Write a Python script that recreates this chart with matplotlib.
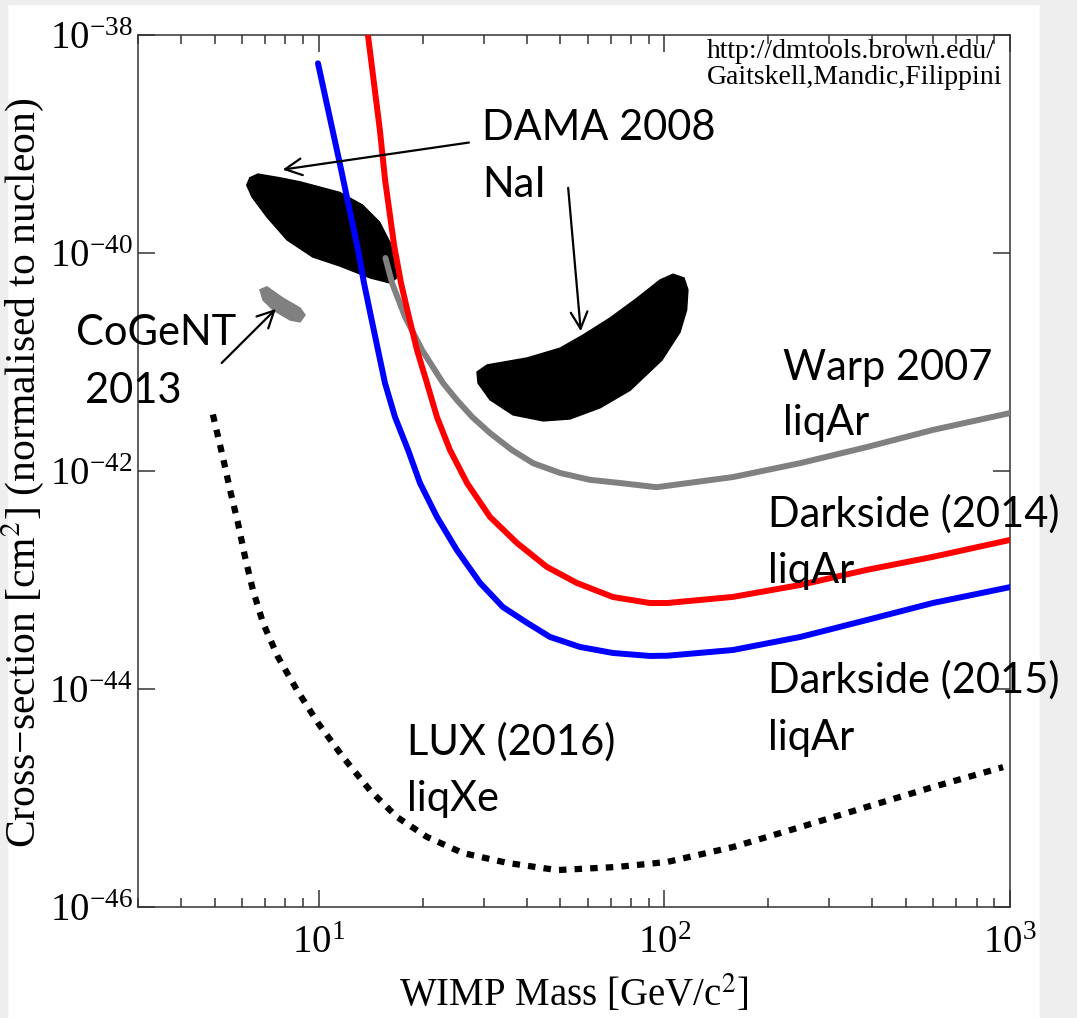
import matplotlib
matplotlib.use('Agg')
import matplotlib.pyplot as plt
from matplotlib.patches import Polygon, Rectangle
from matplotlib.ticker import FixedLocator, LogLocator, NullFormatter

# WIMP exclusion limits (mass in GeV/c^2, cross-section in cm^2).
darkside15_mass = [9.95, 11.5, 12.99, 13.52, 14.17, 14.84, 15.55, 16.62, 18.13, 19.63, 21.98, 25.1,
                   29.3, 34.1, 40.1, 46.7, 57.0, 71.0, 90.8, 102, 158, 247, 386, 598, 1000]
darkside15_xsec = [5.5e-39, 6.7e-40, 1.07e-40, 5.3e-41, 2.59e-41, 1.29e-41, 6.4e-42, 3.13e-42,
                   1.56e-42, 7.76e-43, 3.79e-43, 1.88e-43, 9.4e-44, 5.65e-44, 4.04e-44, 3.0e-44,
                   2.43e-44, 2.14e-44, 2.01e-44, 2.02e-44, 2.28e-44, 3.0e-44, 4.3e-44, 6.15e-44, 8.6e-44]

darkside14_mass = [13.88, 15.03, 15.56, 16.52, 17.3, 18.24, 19.24, 20.57, 21.98, 23.97, 26.85, 31.3,
                   37.5, 45.7, 55.8, 71.0, 90.8, 102, 158, 247, 386, 598, 1000]
darkside14_xsec = [1.0e-38, 1.34e-39, 4.68e-40, 1.18e-40, 5.3e-41, 2.59e-41, 1.29e-41, 6.4e-42,
                   3.13e-42, 1.56e-42, 7.76e-43, 3.79e-43, 2.18e-43, 1.32e-43, 9.4e-44, 6.98e-44,
                   6.15e-44, 6.15e-44, 7.0e-44, 9.0e-44, 1.24e-43, 1.63e-43, 2.33e-43]

warp_mass = [15.6, 16.3, 17.78, 19.9, 22.9, 25.1, 27.8, 31.3, 36.2, 41.7, 49.9, 60.9, 74.4, 95,
             158, 247, 386, 598, 1000]
warp_xsec = [9.0e-41, 5.3e-41, 2.59e-41, 1.29e-41, 6.4e-42, 4.48e-42, 3.13e-42, 2.23e-42, 1.56e-42,
             1.18e-42, 9.6e-43, 8.3e-43, 7.76e-43, 7.1e-43, 8.8e-43, 1.18e-42, 1.66e-42, 2.38e-42, 3.4e-42]

lux_mass = [4.94, 5.28, 5.54, 5.84, 6.12, 6.45, 6.90, 7.62, 8.65, 9.95, 11.75, 14.06, 16.83, 20.57,
            26.1, 35.1, 48.9, 73, 102, 158, 247, 386, 598, 955]
lux_xsec = [3.3e-42, 1.34e-42, 6.7e-43, 3.33e-43, 1.63e-43, 8.1e-44, 4.04e-44, 1.97e-44, 9.8e-45,
            4.88e-45, 2.38e-45, 1.18e-45, 6.7e-46, 4.39e-46, 3.13e-46, 2.54e-46, 2.18e-46, 2.33e-46,
            2.59e-46, 3.55e-46, 5.4e-46, 8.3e-46, 1.26e-45, 1.92e-45]

# DAMA 2008 (NaI) allowed regions and CoGeNT 2013 region, outline vertices.
dama_low_mass = [6.19, 6.32, 6.67, 7.72, 8.83, 11.5, 13.4, 15.0, 16.1, 16.7, 16.8, 16.1, 14.1, 11.5,
                 9.6, 8.09, 7.08, 6.41]
dama_low_xsec = [4.2e-40, 4.9e-40, 5.3e-40, 4.9e-40, 4.5e-40, 3.6e-40, 2.75e-40, 1.92e-40, 1.24e-40,
                 7.8e-41, 5.9e-41, 5.3e-41, 5.9e-41, 7.6e-41, 9.2e-41, 1.32e-40, 2.14e-40, 3.27e-40]

dama_high_mass = [28.9, 28.7, 30.7, 40.1, 49.9, 58.2, 69.7, 83.4, 97.1, 106, 114, 117, 116, 111,
                  98.4, 79.6, 65.2, 53.3, 44.6, 36.5, 31.3]
dama_high_xsec = [6.4e-42, 8.1e-42, 9.4e-42, 1.09e-41, 1.34e-41, 1.77e-41, 2.54e-41, 3.86e-41,
                  5.65e-41, 6.4e-41, 5.9e-41, 4.6e-41, 3.0e-41, 1.88e-41, 1.04e-41, 5.5e-42,
                  3.8e-42, 3.0e-42, 2.88e-42, 3.27e-42, 4.5e-42]

cogent_mass = [6.76, 7.08, 7.88, 8.83, 9.13, 8.83, 8.26, 7.38, 6.90]
cogent_xsec = [4.6e-41, 4.9e-41, 3.86e-41, 3.13e-41, 2.7e-41, 2.33e-41, 2.43e-41, 3.0e-41, 3.7e-41]

W, H = 1077, 1018


def fx(px):
    return px / W


def fy(py):
    return 1 - py / H


plt.rcParams['font.family'] = ['Liberation Serif', 'DejaVu Serif']
plt.rcParams['mathtext.fontset'] = 'stix'

fig = plt.figure(figsize=(W / 100, H / 100), dpi=100)
fig.patch.set_facecolor('white')
# slide background around the picture
for (x0, y0, x1, y1) in [(0, 0, 7, H), (0, 0, W, 4), (1040, 0, W, H)]:
    fig.patches.append(Rectangle((fx(x0), fy(y1)), fx(x1 - x0), (y1 - y0) / H,
                                 transform=fig.transFigure, color='#eeeeee', zorder=-10))

ax = fig.add_axes([fx(138), fy(907), fx(1010 - 138), (907 - 35) / H])
ax.set_xscale('log')
ax.set_yscale('log')
ax.set_xlim(3, 1000)
ax.set_ylim(1e-46, 1e-38)

ax.add_patch(Polygon(list(zip(dama_low_mass, dama_low_xsec)), closed=True, color='black', zorder=2))
ax.add_patch(Polygon(list(zip(dama_high_mass, dama_high_xsec)), closed=True, color='black', zorder=2))
ax.add_patch(Polygon(list(zip(cogent_mass, cogent_xsec)), closed=True, color='#808080', zorder=2))

line_style = dict(lw=4.3, solid_capstyle='round', solid_joinstyle='round', zorder=3)
ax.plot(warp_mass, warp_xsec, color='#808080', **line_style)
ax.plot(darkside14_mass, darkside14_xsec, color='#ff0000', **line_style)
ax.plot(darkside15_mass, darkside15_xsec, color='#0000ff', **line_style)
ax.plot(lux_mass, lux_xsec, color='black', lw=4.5, linestyle=(0, (1.2, 1.3)), zorder=3)

arrow = dict(arrowstyle='->', color='black', lw=1.6, mutation_scale=30)
ax.annotate('', xy=(7.72, 5.77e-40), xytext=(27.7, 1.04e-39), arrowprops=arrow, zorder=4)
ax.annotate('', xy=(57.4, 1.81e-41), xytext=(52.6, 4.2e-40), arrowprops=arrow, zorder=4)
ax.annotate('', xy=(7.62, 3.2e-41), xytext=(5.17, 9.4e-42), arrowprops=arrow, zorder=4)

# ticks
ax.yaxis.set_major_locator(FixedLocator([1e-46, 1e-44, 1e-42, 1e-40, 1e-38]))
ax.yaxis.set_minor_locator(FixedLocator([]))
ax.xaxis.set_major_locator(LogLocator(base=10))
ax.xaxis.set_minor_locator(LogLocator(base=10, subs=range(2, 10)))
ax.xaxis.set_minor_formatter(NullFormatter())
ax.tick_params(which='both', direction='in', top=True, right=True, color='#333333')
ax.tick_params(which='major', length=12, width=1.1, labelsize=28)
ax.tick_params(which='minor', length=6.5, width=1.1)
ax.tick_params(axis='x', pad=13)
ax.tick_params(axis='y', pad=4)
for s in ax.spines.values():
    s.set_color('#333333')
    s.set_linewidth(1.1)

ax.set_xlabel('WIMP Mass [GeV/c$^2$]', fontsize=28, labelpad=8)
fig.text(fx(23), fy(473), 'Cross\u2212section [cm$^2$] (normalised to nucleon)', rotation=90,
         fontsize=30, ha='center', va='center')

fig.text(fx(707), fy(58), 'http://dmtools.brown.edu/', fontsize=20)
fig.text(fx(707), fy(84), 'Gaitskell,Mandic,Filippini', fontsize=20)

labels = [
    ('DAMA 2008', 482, 140), ('NaI', 482, 197),
    ('CoGeNT', 76, 345), ('2013', 85, 403),
    ('Warp 2007', 783, 380), ('liqAr', 783, 435),
    ('Darkside (2014)', 768, 527), ('liqAr', 768, 583),
    ('Darkside (2015)', 768, 693), ('liqAr', 768, 750),
    ('LUX (2016)', 407, 755), ('liqXe', 407, 811),
]
for text, px, py in labels:
    fig.text(fx(px), fy(py), text, fontfamily='Lato', fontsize=30, va='baseline', zorder=5)

fig.savefig('out.png', dpi=100, facecolor=fig.get_facecolor())
